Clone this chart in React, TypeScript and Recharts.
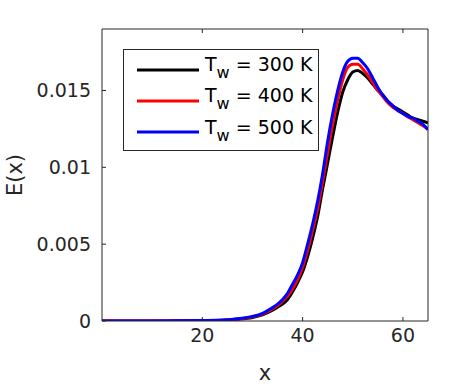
import React from "react";
import { LineChart, Line, XAxis, YAxis } from "recharts";

// x positions of the sampled points
const xs = [
  0, 5, 10, 15, 20, 24, 27, 30, 32, 34, 35, 36, 37, 38, 39, 40, 41, 42, 43, 44,
  45, 46, 47, 48, 49, 50, 51, 52, 53, 54, 55, 56, 57, 58, 59, 60, 61, 62, 63, 64, 65,
];

// E(x) for each wall temperature
const e300 = [
  0, 0, 0, 0.00001, 0.00002, 0.00004, 0.00011, 0.00023, 0.0004, 0.0007, 0.0009, 0.0011, 0.0014, 0.0019, 0.0025, 0.0032, 0.0042, 0.0054, 0.0068, 0.0086,
  0.0103, 0.012, 0.0136, 0.0149, 0.0157, 0.0162, 0.0163, 0.0161, 0.0158, 0.0154, 0.015, 0.0147, 0.0143, 0.014, 0.0138, 0.0136, 0.0134, 0.0132, 0.0131, 0.013, 0.0129,
];
const e400 = [
  0, 0, 0, 0.00001, 0.00002, 0.00005, 0.00013, 0.00027, 0.00045, 0.0008, 0.001, 0.0013, 0.0016, 0.0021, 0.0027, 0.0035, 0.0046, 0.0059, 0.0073, 0.0091,
  0.011, 0.0128, 0.0144, 0.0157, 0.0165, 0.0167, 0.0167, 0.0164, 0.016, 0.0155, 0.015, 0.0146, 0.0142, 0.0139, 0.0137, 0.0135, 0.0133, 0.0131, 0.0129, 0.0127, 0.0125,
];
const e500 = [
  0, 0, 0, 0.00001, 0.00003, 0.00006, 0.00015, 0.0003, 0.0005, 0.00088, 0.0011, 0.0014, 0.0018, 0.0024, 0.003, 0.0038, 0.005, 0.0063, 0.0078, 0.0096,
  0.0117, 0.0135, 0.015, 0.0162, 0.0169, 0.0171, 0.0171, 0.0168, 0.0164, 0.0158, 0.0152, 0.0147, 0.0143, 0.014, 0.0137, 0.0135, 0.0133, 0.0132, 0.013, 0.0128, 0.01245,
];

const xTicks = [20, 40, 60];
const yTicks = [0, 0.005, 0.01, 0.015];

const series = [
  { key: "t300", label: "300 K", color: "#000000" },
  { key: "t400", label: "400 K", color: "#ff0000" },
  { key: "t500", label: "500 K", color: "#0000ff" },
];

const data = xs.map((x, i) => ({ x, t300: e300[i], t400: e400[i], t500: e500[i] }));

const AXIS = "#262626";
const FONT = "'DejaVu Sans', sans-serif";
const TICK_LEN = 4;

// ticks point inward, labels sit outside
const BottomTick = ({ x, y, payload }: any) => (
  <g>
    <line x1={x} x2={x} y1={y} y2={y - TICK_LEN} stroke={AXIS} />
    <text x={x} y={y + 21} textAnchor="middle" fill={AXIS} fontSize={19} fontFamily={FONT}>
      {payload.value}
    </text>
  </g>
);
const TopTick = ({ x, y }: any) => (
  <line x1={x} x2={x} y1={y} y2={y + TICK_LEN} stroke={AXIS} />
);
const LeftTick = ({ x, y, payload }: any) => (
  <g>
    <line x1={x} x2={x + TICK_LEN} y1={y} y2={y} stroke={AXIS} />
    <text x={x - 11} y={y + 7} textAnchor="end" fill={AXIS} fontSize={19} fontFamily={FONT}>
      {String(payload.value)}
    </text>
  </g>
);
const RightTick = ({ x, y }: any) => (
  <line x1={x} x2={x - TICK_LEN} y1={y} y2={y} stroke={AXIS} />
);

function LegendBox() {
  return (
    <div
      style={{
        position: "absolute",
        left: 123,
        top: 49,
        width: 196,
        height: 102,
        boxSizing: "border-box",
        border: `1px solid ${AXIS}`,
        background: "#fff",
        paddingTop: 4,
        fontFamily: FONT,
        fontSize: 19,
        color: "#000",
      }}
    >
      {series.map((s) => (
        <div key={s.key} style={{ display: "flex", alignItems: "center", height: 31.3 }}>
          <svg width={75} height={10} style={{ marginLeft: 13 }}>
            <line x1={0} x2={62} y1={5} y2={5} stroke={s.color} strokeWidth={3} />
          </svg>
          <span style={{ marginLeft: -7, whiteSpace: "nowrap", position: "relative", top: -2 }}>
            T<sub style={{ fontSize: 16, verticalAlign: "-7px" }}>w</sub> = {s.label}
          </span>
        </div>
      ))}
    </div>
  );
}

export default function App() {
  return (
    <div style={{ position: "absolute", left: 0, top: 0, width: 472, height: 384, background: "#fff" }}>
      <LineChart width={472} height={384} data={data} margin={{ top: 28, right: 43, bottom: 0, left: 0 }}>
        <XAxis
          dataKey="x"
          type="number"
          domain={[0, 65]}
          ticks={xTicks}
          allowDataOverflow
          height={63}
          stroke={AXIS}
          tickSize={0}
          tickMargin={0}
          tick={<BottomTick />}
          label={{ value: "x", position: "insideBottom", offset: 4, fill: AXIS, fontSize: 21, fontFamily: FONT }}
        />
        <XAxis
          xAxisId="top"
          orientation="top"
          dataKey="x"
          type="number"
          domain={[0, 65]}
          ticks={xTicks}
          height={1}
          stroke={AXIS}
          tickSize={0}
          tickMargin={0}
          tick={<TopTick />}
        />
        <YAxis
          type="number"
          domain={[0, 0.019]}
          ticks={yTicks}
          allowDataOverflow
          width={102}
          stroke={AXIS}
          tickSize={0}
          tickMargin={0}
          tick={<LeftTick />}
          label={{ value: "E(x)", angle: -90, position: "insideLeft", offset: 15, fill: AXIS, fontSize: 21, fontFamily: FONT, style: { textAnchor: "middle" } }}
        />
        <YAxis
          yAxisId="right"
          orientation="right"
          type="number"
          domain={[0, 0.019]}
          ticks={yTicks}
          width={1}
          stroke={AXIS}
          tickSize={0}
          tickMargin={0}
          tick={<RightTick />}
        />
        {series.map((s) => (
          <Line
            key={s.key}
            type="monotone"
            dataKey={s.key}
            stroke={s.color}
            strokeWidth={3}
            dot={false}
            isAnimationActive={false}
          />
        ))}
      </LineChart>
      <LegendBox />
    </div>
  );
}
